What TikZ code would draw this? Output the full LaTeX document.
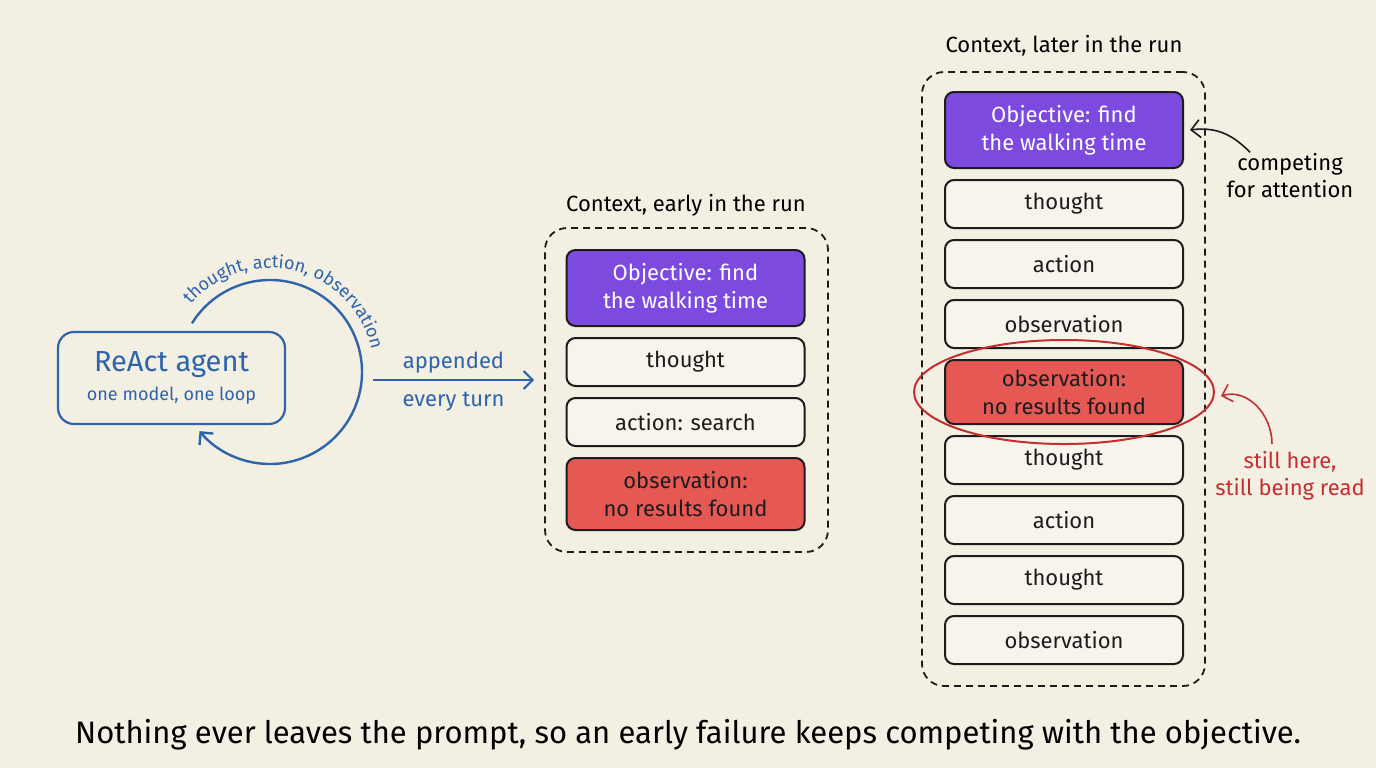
\documentclass[tikz,border=0pt]{standalone}
\usepackage{fontspec}
\setmainfont{Fira Sans}
\usepackage{tikz}
\usetikzlibrary{arrows.meta,shapes.geometric,decorations.text}
\usetikzlibrary{positioning}
\definecolor{paper}{RGB}{243,239,227}
\definecolor{ink}{RGB}{28,28,28}
\definecolor{cellfill}{RGB}{247,244,235}
\definecolor{blueink}{RGB}{45,100,170}
\definecolor{objpurple}{RGB}{124,74,222}
\definecolor{badred}{RGB}{229,88,84}
\definecolor{redink}{RGB}{196,46,46}
\tikzstyle{cell} = [draw=ink, line width=2pt, rounded corners=9pt, fill=cellfill, minimum width=238pt, minimum height=48pt, align=center, text=ink, font=\fontsize{22}{28}\selectfont]
\tikzstyle{objcell} = [cell, fill=objpurple, text=white, minimum height=76pt]
\tikzstyle{badcell} = [cell, fill=badred]
\tikzstyle{frame} = [draw=ink, line width=1.8pt, dash pattern=on 7pt off 5pt, rounded corners=22pt]
\tikzstyle{arrow} = [line width=2pt, -{Straight Barb[length=9pt,width=18pt]}]
\tikzstyle{label} = [font=\fontsize{22}{27}\selectfont, align=center]

\begin{document}
\begin{tikzpicture}[x=1pt, y=-1pt]
	\useasboundingbox (0,0) rectangle (1376,768);
	\fill[paper] (0,0) rectangle (1376,768);

	% agent and its loop
	\node[draw=blueink, line width=2.2pt, rounded corners=16pt, minimum width=227pt, minimum height=92pt, text=blueink, align=center] (agent) at (171.5,378) {\fontsize{29}{32}\selectfont ReAct agent\\[8pt]\fontsize{18}{20}\selectfont one model, one loop};
	\coordinate (loopc) at (270,372);
	\draw[arrow, blueink, line width=2.4pt] (loopc) ++(-148:92) arc[start angle=-148, end angle=140, radius=92];
	\path[decorate, decoration={text along path, text align=center, text color=blueink, text={|\fontsize{18}{20}\selectfont|thought, action, observation}}] (loopc) ++(-160:104) arc[start angle=-160, end angle=8, radius=104];

	\coordinate (appstart) at (373,380);
	\coordinate (append) at (534,380);
	\draw[arrow, blueink] (appstart) -- (append) node[label, midway, above=2pt, text=blueink] (appl) {appended} node[label, midway, below=8pt, text=blueink] (turnl) {every turn};

	% early context
	\node[label] (earlytitle) at (686,205) {Context, early in the run};
	\node[frame, minimum width=283pt, minimum height=324pt] (early) at (686.5,390) {};
	\node[objcell] (e1) at (685.5,288) {Objective: find\\the walking time};
	\node[cell, below=10pt of e1] (e2) {thought};
	\node[cell, below=10pt of e2] (e3) {action: search};
	\node[badcell, below=10pt of e3, minimum height=72pt] (e4) {observation:\\no results found};

	% later context
	\node[label] (latetitle) at (1064,46) {Context, later in the run};
	\node[frame, minimum width=283pt, minimum height=614pt] (late) at (1063.5,379) {};
	\node[objcell] (l1) at (1064,130) {Objective: find\\the walking time};
	\node[cell, below=10pt of l1] (l2) {thought};
	\node[cell, below=10pt of l2] (l3) {action};
	\node[cell, below=10pt of l3] (l4) {observation};
	\node[badcell, below=10pt of l4, minimum height=64pt] (l5) {observation:\\no results found};
	\node[cell, below=10pt of l5] (l6) {thought};
	\node[cell, below=10pt of l6] (l7) {action};
	\node[cell, below=10pt of l7] (l8) {thought};
	\node[cell, below=10pt of l8] (l9) {observation};

	\node[ellipse, draw=redink, line width=2pt, minimum width=300pt, minimum height=104pt] (ring) at (l5) {};

	% notes
	\node[label] (compete) at (1290,176) {competing\\for attention};
	\draw[arrow, ink, line width=1.6pt] ([xshift=-40pt,yshift=-2pt]compete.north) .. controls +(-14,-14) and +(30,-4) .. ([xshift=6pt]l1.east);
	\node[label, text=redink] (still) at (1290,476) {still here,\\still being read};
	\draw[arrow, redink, line width=1.6pt] ([xshift=-18pt,yshift=4pt]still.north) .. controls +(0,-30) and +(26,-8) .. ([xshift=6pt,yshift=-4pt]ring.east);

	\node[font=\fontsize{31}{36}\selectfont] (caption) at (688,735) {Nothing ever leaves the prompt, so an early failure keeps competing with the objective.};
\end{tikzpicture}
\end{document}
